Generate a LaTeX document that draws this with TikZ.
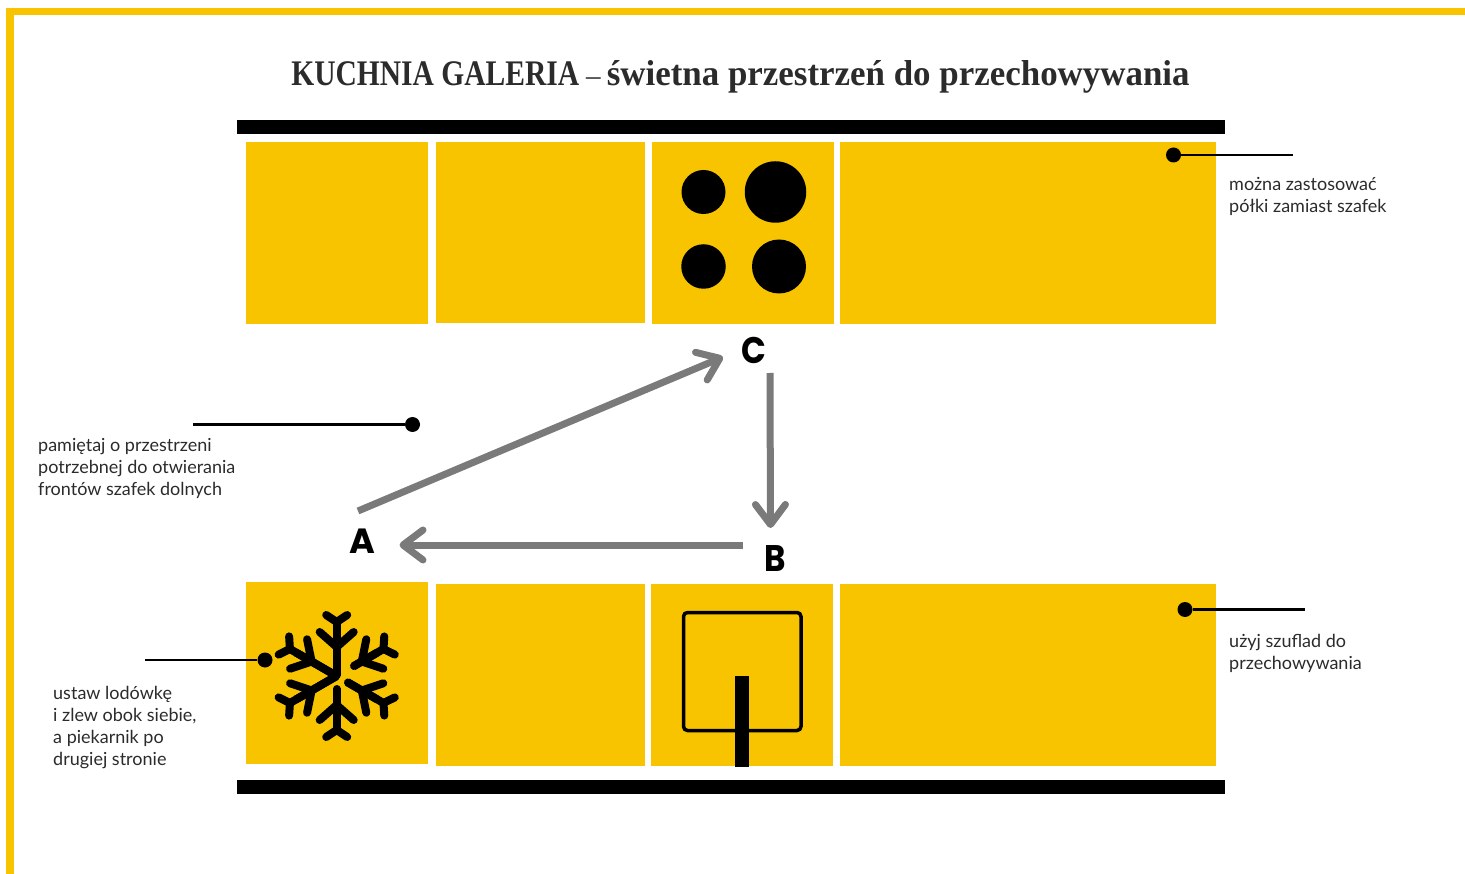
\documentclass[tikz,border=0pt]{standalone}
\usepackage{fontspec}
\usetikzlibrary{arrows.meta}
\setmainfont{Lato}
\newfontfamily\titlecaps[FakeStretch=0.82]{Liberation Serif}
\newfontfamily\titlelow[FakeStretch=0.97]{Liberation Serif}
\newfontfamily\letterfont{Poppins}
\newfontfamily\letternarrow[FakeStretch=0.88]{Poppins}
\definecolor{amber}{HTML}{F8C400}
\definecolor{route}{HTML}{7A7A7A}
\definecolor{ink}{HTML}{2B2B2B}
\tikzset{
  block/.style={fill=amber,draw=none,inner sep=0pt,anchor=north west},
  wall/.style={fill=black,draw=none,inner sep=0pt,anchor=north west,minimum width=988pt,minimum height=14pt},
  burner/.style={circle,fill=black,inner sep=0pt},
  dotend/.style={circle,fill=black,inner sep=0pt,minimum size=15pt},
  leader/.style={draw=black,line width=2.4pt},
  note/.style={font=\fontsize{18}{22}\selectfont,text=ink,align=left,anchor=north west,inner sep=0pt},
  letter/.style={font=\letterfont\bfseries\fontsize{35}{35}\selectfont,text=black,inner sep=0pt},
  letterb/.style={font=\letternarrow\bfseries\fontsize{37}{37}\selectfont,text=black,inner sep=0pt},
  routeline/.style={draw=route,line width=7pt,-{Straight Barb[length=20pt,width=30pt,round]}},
  flake/.style={draw=black,line width=8pt,line cap=round,line join=round}
}
\begin{document}
\begin{tikzpicture}[x=1pt,y=-1pt]
\useasboundingbox (0,0) rectangle (1465,874);
% frame
\fill[amber] (6,8) rectangle (1465,15);
\fill[amber] (6,8) rectangle (14,874);
% title
\node[inner sep=0pt,text=ink] (title) at (740.5,77) {\fontsize{36}{38}\selectfont{\titlecaps\bfseries KUCHNIA GALERIA}\hspace{7pt}{\titlelow\fontsize{30}{38}\selectfont –}\hspace{6pt}{\titlelow\bfseries świetna przestrzeń do przechowywania}};
% walls
\node[wall] (walltop) at (237,120) {};
\node[wall] (wallbot) at (237,780) {};
% top blocks
\node[block,minimum width=182pt,minimum height=182pt] (t1) at (246,142) {};
\node[block,minimum width=209pt,minimum height=181pt] (t2) at (436,142) {};
\node[block,minimum width=182pt,minimum height=182pt] (t3) at (652,142) {};
\node[block,minimum width=376pt,minimum height=182pt] (t4) at (840,142) {};
% bottom blocks
\node[block,minimum width=182pt,minimum height=182pt] (b1) at (246,582) {};
\node[block,minimum width=209pt,minimum height=182pt] (b2) at (436,584) {};
\node[block,minimum width=182pt,minimum height=182pt] (b3) at (651,584) {};
\node[block,minimum width=376pt,minimum height=182pt] (b4) at (840,584) {};
% burners
\node[burner,minimum size=44pt] (h1) at (703.5,192) {};
\node[burner,minimum size=61.5pt] (h2) at (775.5,192) {};
\node[burner,minimum size=44.5pt] (h3) at (703.5,266.5) {};
\node[burner,minimum size=54pt] (h4) at (779,266.5) {};
% sink
\draw[black,line width=3.5pt,rounded corners=4pt] (683.5,612.5) rectangle (801,730.5);
\fill[black] (735,676) rectangle (749,767);
% snowflake
\begin{scope}[shift={(336.7,676)}]
\foreach \ang/\st in {0/0,60/0,120/0,180/12,240/12,300/19}{
  \begin{scope}[rotate=\ang]
    \draw[flake,line cap=butt] (0,-\st) -- (0,-47);
    \draw[flake] (0,-\st-1) -- (0,-54);
    \draw[flake] (-10.5,-61) -- (0,-54) -- (10.5,-61);
    \draw[flake] (-17,-44) -- (0,-29) -- (17,-44);
  \end{scope}
}
\end{scope}
% letters
\node[letter] (A) at (362.5,541) {A};
\node[letterb] (B) at (775,559) {B};
\node[letterb] (C) at (754,350) {C};
% route
\draw[routeline] ([shift={(-4.5,-30)}]A.center) -- ([shift={(-31,7)}]C.center);
\draw[routeline] ([shift={(16,23)}]C.center) -- ([shift={(-4.5,-31)}]B.center);
\draw[routeline] ([shift={(-32,-14)}]B.center) -- ([shift={(37,4)}]A.center);
% notes
\node[note] (n1) at (1229,177) {można zastosować\\półki zamiast szafek};
\node[note] (n2) at (38,438) {pamiętaj o przestrzeni\\potrzebnej do otwierania\\frontów szafek dolnych};
\node[note] (n3) at (53,686) {ustaw lodówkę\\i zlew obok siebie,\\a piekarnik po\\drugiej stronie};
\node[note] (n4) at (1229,634) {użyj szuflad do\\przechowywania};
% leaders
\node[dotend] (d1) at (1173.5,155) {};
\coordinate (e1) at (1293,155);
\draw[leader] (d1) -- (e1);
\node[dotend] (d2) at (412.5,424.5) {};
\coordinate (e2) at (193,424.5);
\draw[leader] (d2) -- (e2);
\node[dotend] (d3) at (265,660) {};
\coordinate (e3) at (145,660);
\draw[leader] (d3) -- (e3);
\node[dotend] (d4) at (1185,609.5) {};
\coordinate (e4) at (1305,609.5);
\draw[leader] (d4) -- (e4);
\end{tikzpicture}
\end{document}
